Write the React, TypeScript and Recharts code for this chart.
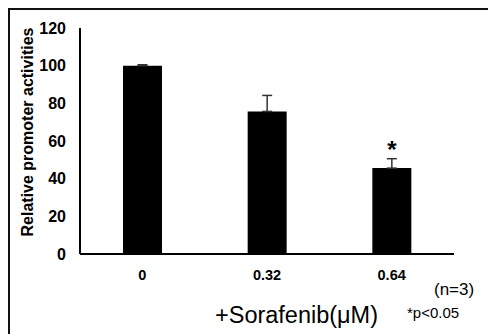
import React from 'react';
import {
  BarChart, Bar, XAxis, YAxis, ErrorBar, LabelList,
} from 'recharts';

const doses = ['0', '0.32', '0.64'];
const activity = [100, 75.7, 45.6];
const sem = [0.5, 8.5, 5];
const marks = ['', '', '*'];
const yTicks = [0, 20, 40, 60, 80, 100, 120];

const FONT = '"Liberation Sans", Arial, sans-serif';
const NARROW = '"Liberation Sans Narrow", "Arial Narrow", "Liberation Sans", sans-serif';

const chartData = doses.map((d, i) => ({
  dose: d,
  value: activity[i],
  err: [0, sem[i]],
  mark: marks[i],
}));

function StarLabel(props: any) {
  const { x, y, width, index } = props;
  const m = marks[index];
  if (!m) return null;
  return (
    <text
      x={x + width / 2}
      y={y - 10}
      textAnchor="middle"
      fontFamily={FONT}
      fontWeight="bold"
      fontSize={24}
      fill="#000"
    >
      {m}
    </text>
  );
}

function App() {
  return (
    <div style={{ position: 'relative', width: 488, height: 326 }}>
      <BarChart
        width={488}
        height={326}
        data={chartData}
        margin={{ top: 20, right: 42, bottom: 50, left: 12 }}
      >
        <XAxis
          dataKey="dose"
          height={30}
          tickLine={false}
          tickSize={0}
          tickMargin={16}
          axisLine={{ stroke: '#000', strokeWidth: 2 }}
          tick={{ fill: '#000', fontSize: 14.5, fontWeight: 'bold', fontFamily: FONT }}
        />
        <YAxis
          width={60}
          domain={[0, 120]}
          ticks={yTicks}
          tickLine={false}
          tickSize={0}
          tickMargin={14}
          axisLine={{ stroke: '#000', strokeWidth: 2 }}
          tick={{ fill: '#000', fontSize: 16, fontWeight: 'bold', fontFamily: NARROW }}
        />
        <Bar dataKey="value" fill="#000" barSize={39} isAnimationActive={false}>
          <ErrorBar dataKey="err" width={5} stroke="#333" strokeWidth={1.5} direction="y" />
          <LabelList dataKey="mark" content={StarLabel} />
        </Bar>
      </BarChart>
      <svg
        width={488}
        height={326}
        style={{ position: 'absolute', left: 0, top: 0, pointerEvents: 'none' }}
      >
        <text
          x={19}
          y={124}
          transform="rotate(-90 19 124)"
          textAnchor="middle"
          dominantBaseline="central"
          fontFamily={FONT}
          fontWeight="bold"
          fontSize={16}
          fill="#000"
        >
          Relative promoter activities
        </text>
        <text x={207} y={315} fontFamily={FONT} fontSize={23} textLength={163} lengthAdjust="spacingAndGlyphs" fill="#000">
          +Sorafenib(μM)
        </text>
        <text x={426} y={287} fontFamily={FONT} fontSize={17} fill="#000">
          (n=3)
        </text>
        <text x={399} y={310} fontFamily={FONT} fontSize={15} fill="#000">
          *p&lt;0.05
        </text>
      </svg>
      <div
        style={{
          position: 'absolute',
          left: 0,
          top: 0,
          width: 488,
          height: 326,
          boxSizing: 'border-box',
          borderTop: '2px solid #111',
          borderLeft: '2px solid #111',
          pointerEvents: 'none',
        }}
      />
    </div>
  );
}

export default App;
